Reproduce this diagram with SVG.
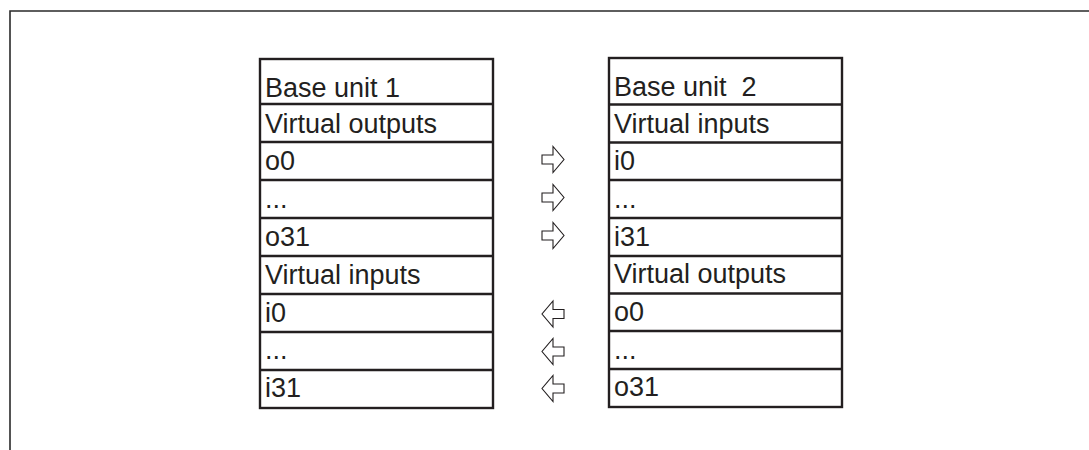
<svg xmlns="http://www.w3.org/2000/svg" width="1089" height="450" viewBox="0 0 1089 450">
<style>
.frame{fill:none;stroke:#2a2a2a;stroke-width:1.6}
.cell{fill:#fff;stroke:#231f20;stroke-width:2.4}
.t{font-family:"Liberation Sans",Arial,Helvetica,sans-serif;font-size:27px;fill:#231f20;white-space:pre}
.arr{fill:#fff;stroke:#231f20;stroke-width:1.1;stroke-linejoin:miter}
</style>
<defs>
<path id="ar" d="M-11,-4.5 L0,-4.5 L0,-13 L11,0 L0,13 L0,4.5 L-11,4.5 Z"/>
</defs>
<rect width="1089" height="450" fill="#fff"/>
<path class="frame" d="M10,450 L10,11 L1089,11"/>
<g id="unit1">
<rect class="cell" x="260" y="59" width="233" height="349"/>
<path class="cell" d="M260,104H493M260,142H493M260,180H493M260,218H493M260,256H493M260,294H493M260,332H493M260,370H493"/>
<text class="t" x="265" y="96.5">Base unit 1</text>
<text class="t" x="265" y="133">Virtual outputs</text>
<text class="t" x="265" y="170">o0</text>
<text class="t" x="265" y="208">...</text>
<text class="t" x="265" y="246">o31</text>
<text class="t" x="265" y="283.5">Virtual inputs</text>
<text class="t" x="265" y="321.5">i0</text>
<text class="t" x="265" y="359">...</text>
<text class="t" x="265" y="396.5">i31</text>
</g>
<g id="unit2">
<rect class="cell" x="609" y="58" width="233" height="349"/>
<path class="cell" d="M609,104.5H842M609,142.5H842M609,180H842M609,218H842M609,256H842M609,293.5H842M609,331H842M609,369H842"/>
<text class="t" x="614" y="96" xml:space="preserve">Base unit  2</text>
<text class="t" x="614" y="133">Virtual inputs</text>
<text class="t" x="614" y="170">i0</text>
<text class="t" x="614" y="208">...</text>
<text class="t" x="614" y="246">i31</text>
<text class="t" x="614" y="283">Virtual outputs</text>
<text class="t" x="614" y="321">o0</text>
<text class="t" x="614" y="358.5">...</text>
<text class="t" x="614" y="396">o31</text>
</g>
<g id="connectors">
<use href="#ar" class="arr" transform="translate(553,159.5)"/>
<use href="#ar" class="arr" transform="translate(553,197.5)"/>
<use href="#ar" class="arr" transform="translate(553,235.5)"/>
<use href="#ar" class="arr" transform="translate(553,314) scale(-1,1)"/>
<use href="#ar" class="arr" transform="translate(553,351.5) scale(-1,1)"/>
<use href="#ar" class="arr" transform="translate(553,388.5) scale(-1,1)"/>
</g>
</svg>
